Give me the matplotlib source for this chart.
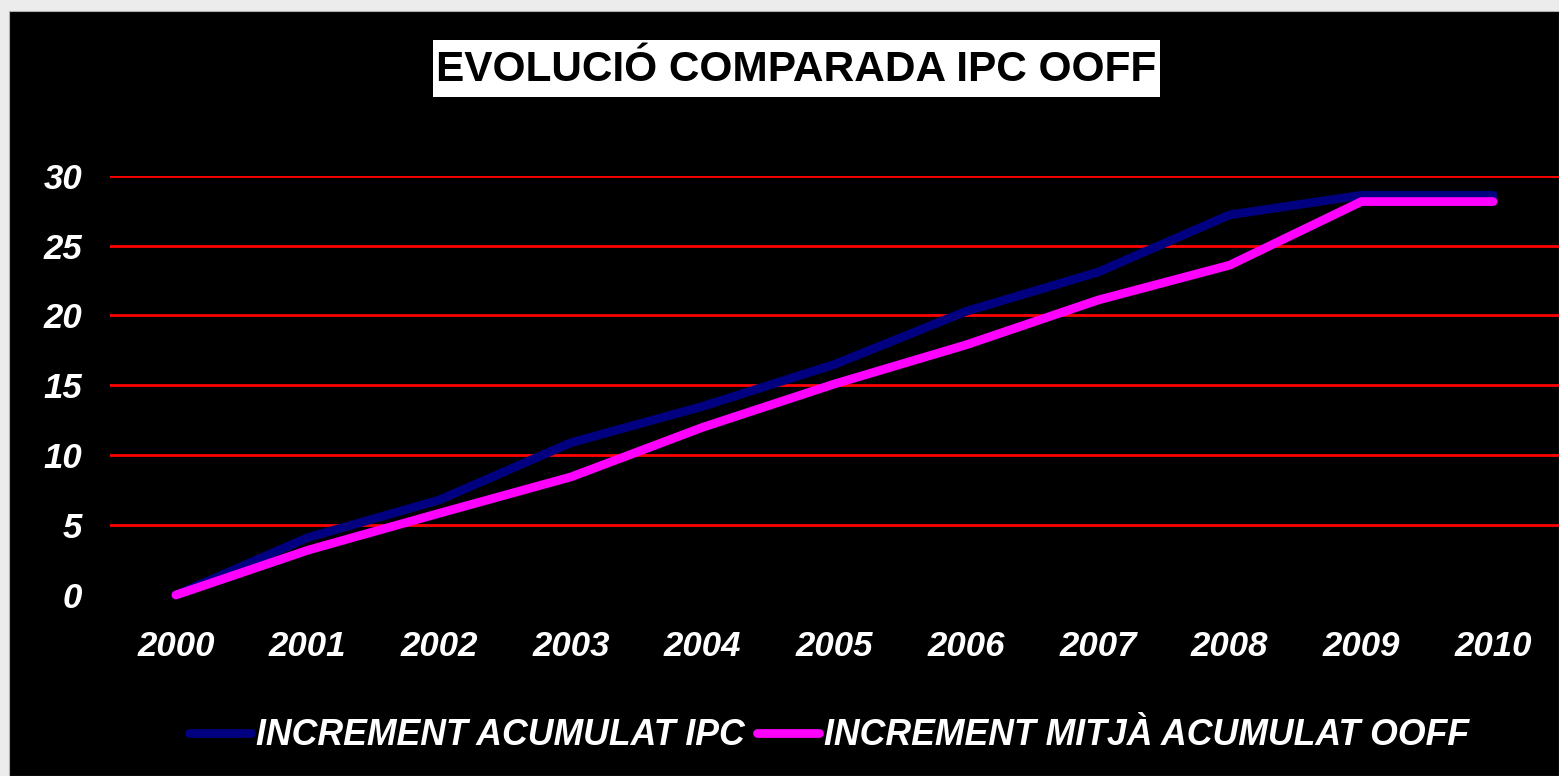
import matplotlib
matplotlib.use("Agg")
import matplotlib.pyplot as plt
from matplotlib.patches import Rectangle

plt.rcParams["font.family"] = ["Liberation Sans", "DejaVu Sans"]

# ── data ──────────────────────────────────────────────────────────────────────
years = ["2000", "2001", "2002", "2003", "2004", "2005",
         "2006", "2007", "2008", "2009", "2010"]
ipc = [0.0, 4.1, 6.8, 10.9, 13.5, 16.5, 20.3, 23.1, 27.2, 28.6, 28.6]
ooff = [0.0, 3.2, 5.85, 8.45, 12.0, 15.1, 17.9, 21.1, 23.6, 28.15, 28.15]
yticks = [0, 5, 10, 15, 20, 25, 30]

title = "EVOLUCIÓ COMPARADA IPC OOFF"
label_ipc = "INCREMENT ACUMULAT IPC"
label_ooff = "INCREMENT MITJÀ ACUMULAT OOFF"

W, H = 1559, 776
fig = plt.figure(figsize=(W / 100, H / 100), dpi=100, facecolor="#ececec")
# black chart area inside the light grey frame
fig.add_artist(Rectangle((9 / W, 0), 1 - 9 / W, 1 - 11 / H,
                         transform=fig.transFigure, facecolor="black",
                         edgecolor="#b0b0b0", linewidth=0.8, zorder=0))

ax = fig.add_axes([110 / W, 181 / H, (W - 110) / W, 419.3 / H])
ax.patch.set_alpha(0)

x = list(range(len(years)))
ax.plot(x, ipc, color="#000080", lw=6.3, solid_capstyle="round",
        solid_joinstyle="round", clip_on=False, label=label_ipc, zorder=3)
ax.plot(x, ooff, color="#ff00ff", lw=6.3, solid_capstyle="round",
        solid_joinstyle="round", clip_on=False, label=label_ooff, zorder=4)

ax.set_xlim(-0.5, len(years) - 0.5)
ax.set_ylim(0, 30)
ax.set_yticks(yticks)
ax.set_xticks(x)
ax.set_xticklabels(years)
for y in yticks[1:]:
    ax.axhline(y, color="#ff0000", lw=2, zorder=1)

ax.tick_params(axis="both", length=0, colors="white", labelsize=25)
ax.tick_params(axis="y", pad=20)
ax.tick_params(axis="x", pad=25)
for lbl in ax.get_xticklabels() + ax.get_yticklabels():
    lbl.set_fontweight("bold")
    lbl.set_fontstyle("italic")
for s in ax.spines.values():
    s.set_visible(False)

# title in a white box
fig.add_artist(Rectangle((433 / W, 1 - 97 / H), (1160 - 433) / W, 57 / H,
                         transform=fig.transFigure, facecolor="white",
                         edgecolor="none", zorder=2))
fig.text(796.5 / W, 1 - 70 / H, title, ha="center", va="center",
         fontsize=30.5, fontweight="bold", color="black", zorder=3)

leg = ax.legend(loc="center", bbox_to_anchor=(829 / W, 40.5 / H),
                bbox_transform=fig.transFigure, ncol=2, frameon=False,
                handlelength=1.75, handletextpad=0.14, columnspacing=0.34,
                prop=dict(size=25.7, weight="bold", style="italic"))
for t in leg.get_texts():
    t.set_color("white")

fig.savefig("out.png", dpi=100, facecolor=fig.get_facecolor())
